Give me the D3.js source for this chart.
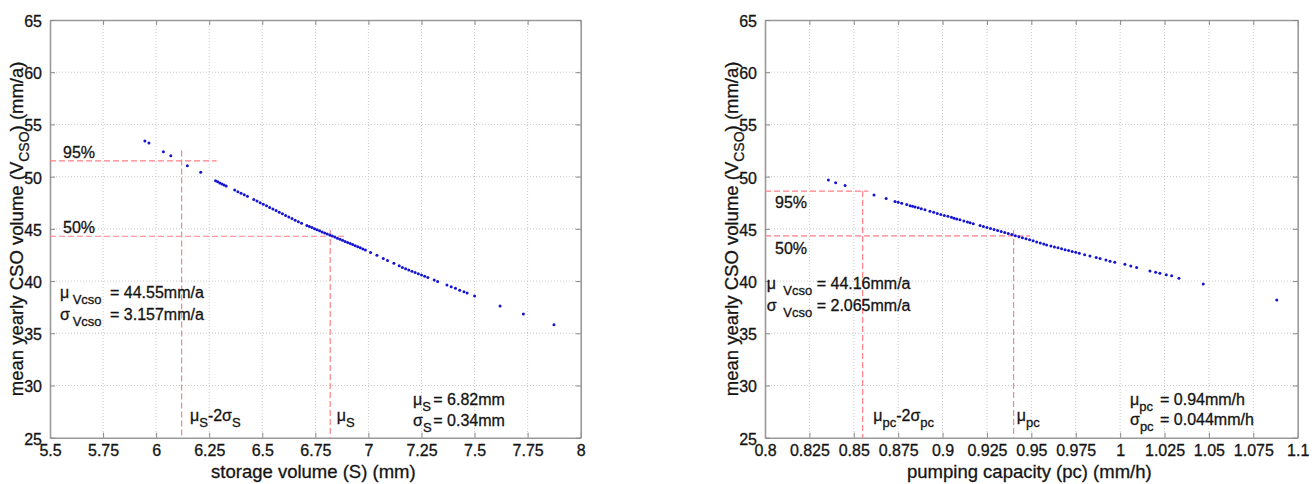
<!DOCTYPE html>
<html>
<head>
<meta charset="utf-8">
<script src="https://cdn.jsdelivr.net/npm/d3@7/dist/d3.min.js"></script>
<style>
  html, body { margin: 0; padding: 0; background: #ffffff; }
  svg text { font-family: "Liberation Sans", Arial, Helvetica, sans-serif; fill: #141414; stroke: #141414; stroke-width: 0.3px; }
</style>
</head>
<body>
<svg id="chart" width="1316" height="484"></svg>
<script>
// ---------------- DATA ----------------
const yTicks = [25, 30, 35, 40, 45, 50, 55, 60, 65];

// Left panel: storage volume S (mm) vs mean yearly CSO volume (mm/a)
const storageTicks = [5.5, 5.75, 6, 6.25, 6.5, 6.75, 7, 7.25, 7.5, 7.75, 8];
const storageTickLabels = ["5.5", "5.75", "6", "6.25", "6.5", "6.75", "7", "7.25", "7.5", "7.75", "8"];
const storageS = [5.947,5.966,6.034,6.069,6.147,6.21,6.28,6.29,6.30,6.31,6.32,6.33,6.37,6.385,6.40,6.415,6.43,6.46,6.475,6.49,6.505,6.52,6.535,6.55,6.565,6.58,6.595,6.61,6.625,6.64,6.655,6.67,6.685,6.71,6.722,6.734,6.746,6.758,6.77,6.782,6.794,6.806,6.818,6.83,6.842,6.854,6.866,6.878,6.89,6.902,6.914,6.926,6.938,6.95,6.962,6.974,6.986,7.01,7.04,7.07,7.09,7.12,7.145,7.16,7.175,7.19,7.205,7.22,7.235,7.25,7.265,7.28,7.31,7.326,7.37,7.39,7.41,7.43,7.45,7.465,7.5,7.62,7.73,7.874];
const storageVcso = [53.41,53.22,52.39,52.0,51.05,50.42,49.6,49.5,49.4,49.3,49.2,49.11,48.71,48.56,48.41,48.26,48.12,47.82,47.67,47.51,47.36,47.21,47.05,46.90,46.75,46.59,46.44,46.29,46.13,45.98,45.83,45.67,45.53,45.32,45.22,45.12,45.02,44.91,44.81,44.71,44.61,44.51,44.41,44.31,44.21,44.10,44.00,43.90,43.80,43.70,43.60,43.50,43.39,43.29,43.19,43.08,42.97,42.74,42.46,42.17,41.98,41.70,41.46,41.31,41.19,41.07,40.95,40.83,40.71,40.59,40.47,40.34,40.10,39.97,39.62,39.46,39.30,39.13,38.97,38.85,38.57,37.61,36.85,35.82];
const storageRef = { v95: 51.5, x95end: 6.285, xLow: 6.12, yLowTop: 52.5, v50: 44.29, x50end: 6.89, xMu: 6.82, yMuTop: 44.9 };

// Right panel: pumping capacity pc (mm/h) vs mean yearly CSO volume (mm/a)
const pumpTicks = [0.8, 0.825, 0.85, 0.875, 0.9, 0.925, 0.95, 0.975, 1, 1.025, 1.05, 1.075, 1.1];
const pumpTickLabels = ["0.8", "0.825", "0.85", "0.875", "0.9", "0.925", "0.95", "0.975", "1", "1.025", "1.05", "1.075", "1.1"];
const pumpPc = [0.8357,0.8398,0.8451,0.8614,0.8682,0.8732,0.875,0.877,0.8798,0.8817,0.8831,0.8845,0.8863,0.888,0.8901,0.8929,0.895,0.897,0.899,0.901,0.903,0.905,0.9065,0.908,0.9098,0.912,0.914,0.9155,0.9173,0.9211,0.923,0.925,0.927,0.929,0.931,0.933,0.935,0.937,0.939,0.941,0.943,0.945,0.947,0.949,0.951,0.953,0.955,0.957,0.9586,0.961,0.963,0.965,0.967,0.969,0.971,0.973,0.975,0.977,0.980,0.983,0.9865,0.9887,0.992,0.9943,0.997,1.0027,1.006,1.0093,1.0168,1.02,1.0224,1.026,1.029,1.0331,1.0468,1.0882];
const pumpVcso = [49.68,49.42,49.15,48.24,47.9,47.62,47.54,47.45,47.32,47.22,47.16,47.09,47.01,46.92,46.82,46.68,46.58,46.48,46.38,46.29,46.2,46.1,46.02,45.95,45.86,45.75,45.65,45.58,45.5,45.32,45.23,45.13,45.04,44.94,44.84,44.75,44.65,44.55,44.45,44.35,44.25,44.15,44.05,43.95,43.85,43.74,43.64,43.54,43.45,43.35,43.27,43.18,43.1,43.01,42.92,42.84,42.75,42.66,42.53,42.4,42.25,42.15,42.02,41.9,41.8,41.6,41.45,41.3,40.96,40.84,40.74,40.6,40.5,40.28,39.72,38.19];
const pumpRef = { v95: 48.62, x95end: 0.8582, xLow: 0.855, yLowTop: 48.62, v50: 44.32, x50end: 0.9492, xMu: 0.94, yMuTop: 44.9 };

// ---------------- DRAWING ----------------
const svg = d3.select("#chart");
const TOP = 20, BOTTOM = 437.7;
const FONT = 16, SUB = 13;

function richText(g, x, y, parts, size) {
  const t = g.append("text").attr("x", x).attr("y", y).style("font-size", size + "px");
  let state = 0;
  parts.forEach(p => {
    const sp = t.append("tspan").text(p[0]);
    const target = p[1] ? 6 : 0;
    if (target !== state) sp.attr("dy", target - state);
    state = target;
    sp.style("font-size", (p[1] ? SUB : size) + "px");
    if (p[2] !== undefined) sp.attr("x", p[2]);
  });
  return t;
}

function panel(cfg) {
  const x = d3.scaleLinear().domain(cfg.xDomain).range([cfg.left, cfg.right]);
  const y = d3.scaleLinear().domain([25, 65]).range([BOTTOM, TOP]);
  const g = svg.append("g");

  // grid
  g.append("g").selectAll("line").data(cfg.xTicks.slice(1, -1)).join("line")
    .attr("x1", d => x(d)).attr("x2", d => x(d)).attr("y1", TOP).attr("y2", BOTTOM)
    .attr("stroke", "#bdbdbd").attr("stroke-width", 0.8).attr("stroke-dasharray", "1,2");
  g.append("g").selectAll("line").data(yTicks.slice(1, -1)).join("line")
    .attr("y1", d => y(d)).attr("y2", d => y(d)).attr("x1", cfg.left).attr("x2", cfg.right)
    .attr("stroke", "#bdbdbd").attr("stroke-width", 0.8).attr("stroke-dasharray", "1,2");

  // axes (inward ticks, MATLAB style)
  const axB = d3.axisBottom(x).tickValues(cfg.xTicks).tickFormat((d, i) => cfg.xLabels[i]).tickSizeInner(-5).tickSizeOuter(0).tickPadding(10);
  const axT = d3.axisTop(x).tickValues(cfg.xTicks).tickFormat("").tickSizeInner(-5).tickSizeOuter(0);
  const axL = d3.axisLeft(y).tickValues(yTicks).tickSizeInner(-5).tickSizeOuter(0).tickPadding(8);
  const axR = d3.axisRight(y).tickValues(yTicks).tickFormat("").tickSizeInner(-5).tickSizeOuter(0);
  const gb = g.append("g").attr("transform", `translate(0,${BOTTOM})`).call(axB);
  const gt = g.append("g").attr("transform", `translate(0,${TOP})`).call(axT);
  const gl = g.append("g").attr("transform", `translate(${cfg.left},0)`).call(axL);
  const gr = g.append("g").attr("transform", `translate(${cfg.right},0)`).call(axR);
  [gb, gt, gl, gr].forEach(a => {
    a.select(".domain").attr("stroke", "#9a9a9a").attr("stroke-width", 1.6);
    a.selectAll(".tick line").attr("stroke", "#8a8a8a").attr("stroke-width", 1);
    a.selectAll("text").style("font-size", FONT + "px").attr("fill", "#141414")
      .style("font-family", '"Liberation Sans", Arial, sans-serif');
  });
  gb.selectAll(".tick text").attr("dy", "0.55em");
  gl.selectAll(".tick text").attr("dy", "0.4em");

  // reference lines (red dashed)
  const red = "#ff7f86";
  const r = cfg.ref;
  const lines = [
    [cfg.xDomain[0], r.v95, r.x95end, r.v95],
    [r.xLow, r.yLowTop, r.xLow, 25],
    [cfg.xDomain[0], r.v50, r.x50end, r.v50],
    [r.xMu, r.yMuTop, r.xMu, 25]
  ];
  g.append("g").selectAll("line").data(lines).join("line")
    .attr("x1", d => x(d[0])).attr("y1", d => y(d[1]))
    .attr("x2", d => x(d[2])).attr("y2", d => y(d[3]))
    .attr("stroke", red).attr("stroke-width", 1.2).attr("stroke-dasharray", "6,3");

  // points
  g.append("g").selectAll("circle").data(cfg.xs.map((v, i) => [v, cfg.ys[i]])).join("circle")
    .attr("cx", d => x(d[0])).attr("cy", d => y(d[1])).attr("r", 1.5)
    .attr("fill", "#1414d2");

  // axis titles
  g.append("text").attr("x", (cfg.left + cfg.right) / 2 - 2).attr("y", 478)
    .attr("text-anchor", "middle").style("font-size", "18.5px").text(cfg.xTitle);
  const yl = g.append("text").attr("transform", `translate(${cfg.left - 27},${(TOP + BOTTOM) / 2}) rotate(-90)`)
    .attr("text-anchor", "middle").style("font-size", "18.5px");
  yl.append("tspan").text("mean yearly CSO volume (V");
  yl.append("tspan").attr("dy", 6).style("font-size", "14px").text("CSO");
  yl.append("tspan").attr("dy", -6).text(") (mm/a)");

  return g;
}

// left panel
const gL = panel({
  left: 50, right: 580.7, xDomain: [5.5, 8], xTicks: storageTicks, xLabels: storageTickLabels,
  xs: storageS, ys: storageVcso, ref: storageRef, xTitle: "storage volume (S) (mm)"
});
gL.append("text").attr("x", 63).attr("y", 158).style("font-size", FONT + "px").text("95%");
gL.append("text").attr("x", 63).attr("y", 233).style("font-size", FONT + "px").text("50%");
richText(gL, 60, 298, [["μ", false], ["Vcso", true, 72.7], ["= 44.55mm/a", false, 110]], FONT);
richText(gL, 60, 320, [["σ", false], ["Vcso", true, 72.7], ["= 3.157mm/a", false, 110]], FONT);
richText(gL, 190, 421, [["μ", false], ["S", true], ["-2σ", false], ["S", true]], FONT);
richText(gL, 336.7, 421, [["μ", false], ["S", true]], FONT);
richText(gL, 413, 405, [["μ", false], ["S", true], ["= 6.82mm", false, 433.3]], FONT);
richText(gL, 413, 426, [["σ", false], ["S", true], ["= 0.34mm", false, 433.3]], FONT);

// right panel
const gR = panel({
  left: 765, right: 1297.7, xDomain: [0.8, 1.1], xTicks: pumpTicks, xLabels: pumpTickLabels,
  xs: pumpPc, ys: pumpVcso, ref: pumpRef, xTitle: "pumping capacity (pc) (mm/h)"
});
gR.append("text").attr("x", 775).attr("y", 208).style("font-size", FONT + "px").text("95%");
gR.append("text").attr("x", 775).attr("y", 254).style("font-size", FONT + "px").text("50%");
richText(gR, 766.7, 289, [["μ", false], ["Vcso", true, 783.3], ["= 44.16mm/a", false, 816.7]], FONT);
richText(gR, 766.7, 311, [["σ", false], ["Vcso", true, 783.3], ["= 2.065mm/a", false, 816.7]], FONT);
richText(gR, 873.3, 421, [["μ", false], ["pc", true], ["-2σ", false], ["pc", true]], FONT);
richText(gR, 1016.7, 421, [["μ", false], ["pc", true]], FONT);
richText(gR, 1130, 405, [["μ", false], ["pc", true], ["= 0.94mm/h", false, 1160]], FONT);
richText(gR, 1130, 425, [["σ", false], ["pc", true], ["= 0.044mm/h", false, 1160]], FONT);
</script>
</body>
</html>
